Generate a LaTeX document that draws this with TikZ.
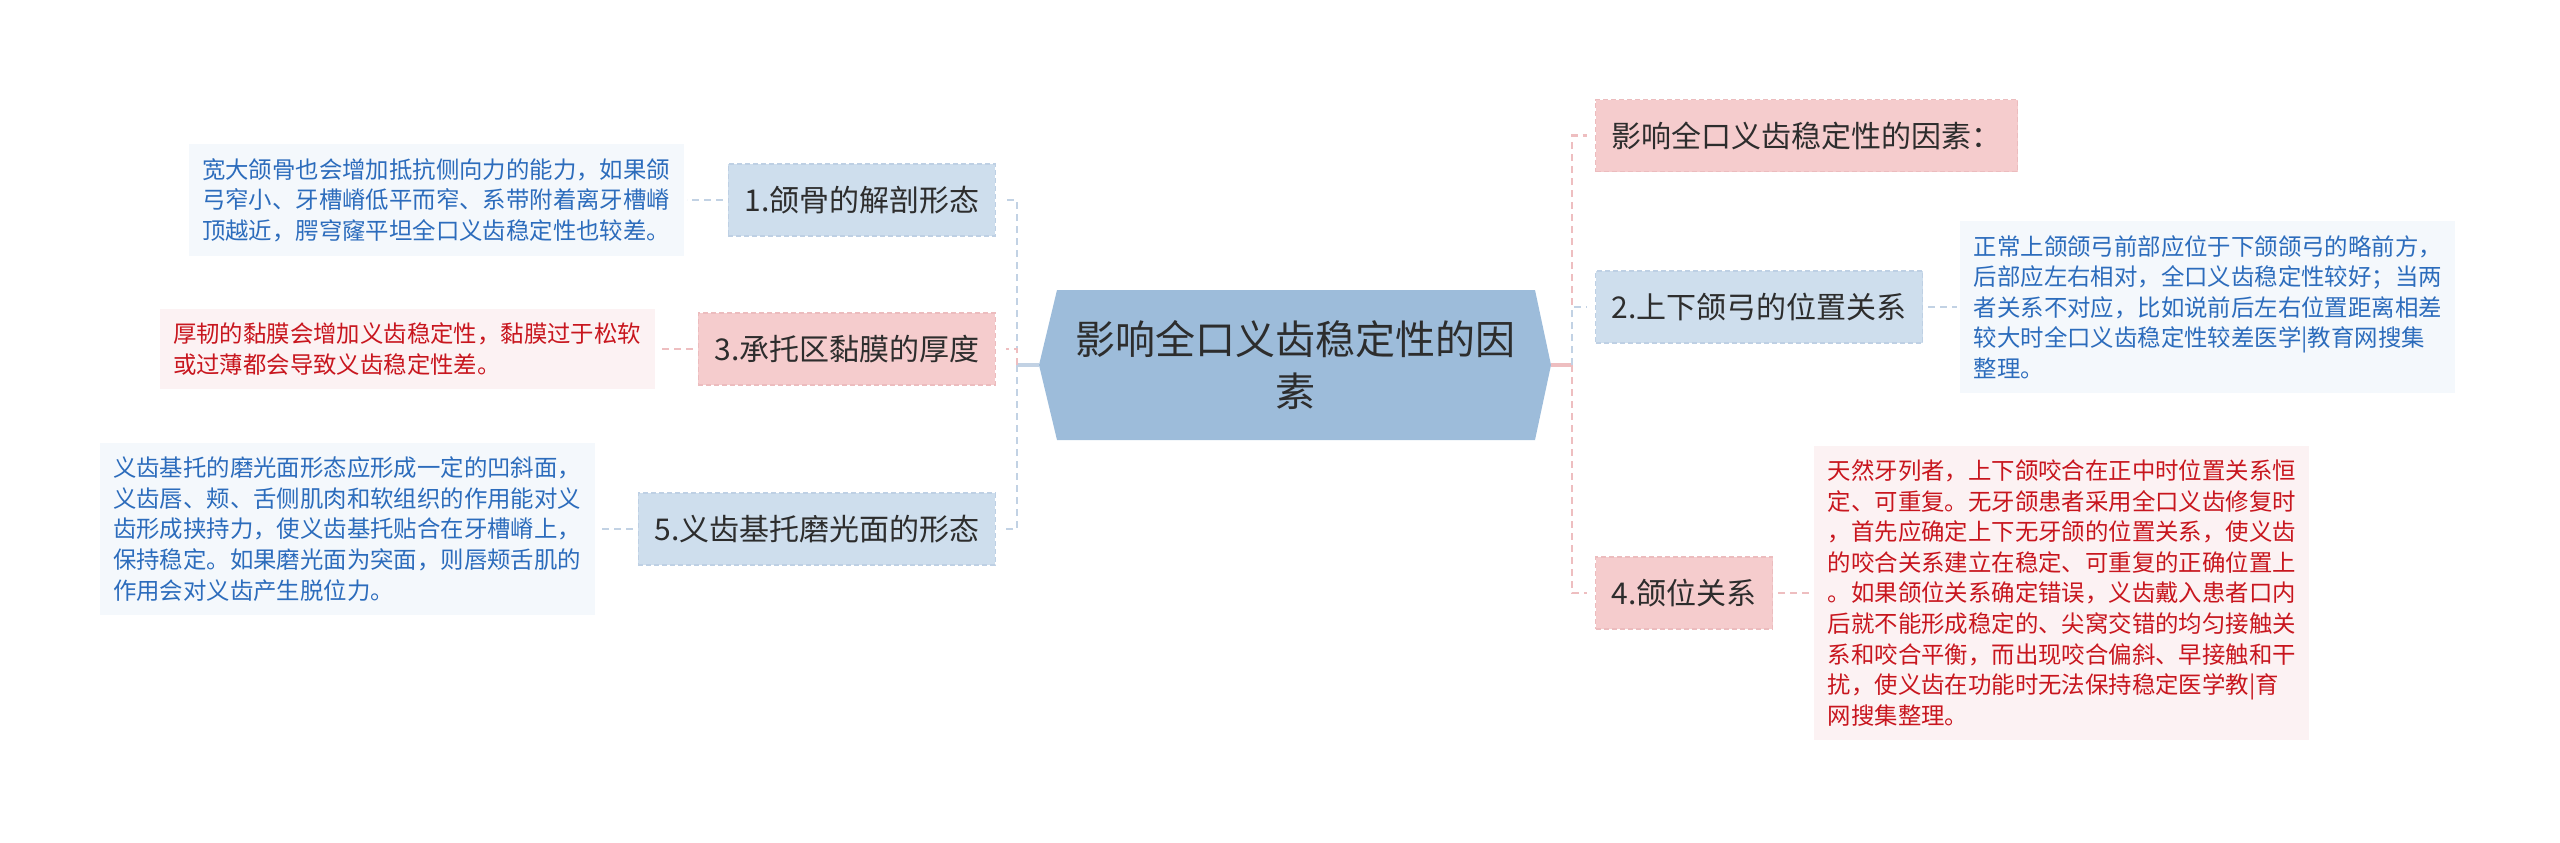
\documentclass[tikz,border=0pt]{standalone}
\usepackage{fontspec}
\setmainfont{Noto Sans CJK SC}
\usetikzlibrary{positioning}
\definecolor{rootblue}{RGB}{157,188,218}
\definecolor{titlegray}{RGB}{45,45,45}
\definecolor{topicblue}{RGB}{206,222,237}
\definecolor{topicblueline}{RGB}{190,208,228}
\definecolor{topicpink}{RGB}{245,204,205}
\definecolor{topicpinkline}{RGB}{236,188,190}
\definecolor{noteblue}{RGB}{244,248,252}
\definecolor{notebluetext}{RGB}{44,108,188}
\definecolor{notepink}{RGB}{252,242,243}
\definecolor{notepinktext}{RGB}{200,22,30}
\definecolor{lineblue}{RGB}{194,210,228}
\definecolor{linepink}{RGB}{238,190,192}

\begin{document}
\begin{tikzpicture}[x=1pt,y=-1pt,
            rootbox/.style={minimum width=512pt,minimum height=150pt,align=center,
              font=\fontsize{40}{52}\selectfont,text=titlegray,
              path picture={\fill[rootblue] (path picture bounding box.west)
                -- ([xshift=18pt]path picture bounding box.north west)
                -- ([xshift=-16pt]path picture bounding box.north east)
                -- (path picture bounding box.east)
                -- ([xshift=-16pt]path picture bounding box.south east)
                -- ([xshift=18pt]path picture bounding box.south west) -- cycle;}},
            topic/.style={minimum height=72pt,inner xsep=16pt,text=titlegray,
              font=\fontsize{30}{36}\selectfont,line width=1.2pt,dash pattern=on 5pt off 3pt},
            bluetopic/.style={topic,fill=topicblue,draw=topicblueline},
            pinktopic/.style={topic,fill=topicpink,draw=topicpinkline},
            note/.style={text width=468pt,inner xsep=13.5pt,inner ysep=14pt,align=left,
              font=\fontsize{23.4}{30.6}\selectfont},
            bluenote/.style={note,fill=noteblue,text=notebluetext},
            pinknote/.style={note,fill=notepink,text=notepinktext},
            blueline/.style={draw=lineblue,line width=2.6pt,dash pattern=on 7pt off 5pt},
            pinkline/.style={draw=linepink,line width=2.6pt,dash pattern=on 7pt off 5pt},
            stem/.style={line width=3.5pt,solid}]
            \useasboundingbox (0,0) rectangle (2560,843);

            \node[rootbox] (root) at (1295,365) {影响全口义齿稳定性的因\\素};
            \coordinate (ljunc) at (1017,365);
            \coordinate (rjunc) at (1572,365);

            % left branches
            \node[bluetopic,anchor=east] (jaw) at (996,200) {1.颌骨的解剖形态};
            \node[pinktopic,anchor=east] (mucosa) at (996,349) {3.承托区黏膜的厚度};
            \node[bluetopic,anchor=east] (polish) at (996,529) {5.义齿基托磨光面的形态};
            \node[bluenote,left=44pt of jaw] (jawnote) {宽大颌骨也会增加抵抗侧向力的能力，如果颌\\弓窄小、牙槽嵴低平而窄、系带附着离牙槽嵴\\顶越近，腭穹窿平坦全口义齿稳定性也较差。};
            \node[pinknote,left=43pt of mucosa] (mucosanote) {厚韧的黏膜会增加义齿稳定性，黏膜过于松软\\或过薄都会导致义齿稳定性差。};
            \node[bluenote,left=43pt of polish] (polishnote) {义齿基托的磨光面形态应形成一定的凹斜面，\\义齿唇、颊、舌侧肌肉和软组织的作用能对义\\齿形成挟持力，使义齿基托贴合在牙槽嵴上，\\保持稳定。如果磨光面为突面，则唇颊舌肌的\\作用会对义齿产生脱位力。};

            % right branches
            \node[pinktopic,anchor=west] (factors) at (1595,135.5) {影响全口义齿稳定性的因素：};
            \node[bluetopic,anchor=west] (arch) at (1595,307) {2.上下颌弓的位置关系};
            \node[pinktopic,anchor=west] (relation) at (1595,593) {4.颌位关系};
            \node[bluenote,right=37pt of arch] (archnote) {正常上颌颌弓前部应位于下颌颌弓的略前方，\\后部应左右相对，全口义齿稳定性较好；当两\\者关系不对应，比如说前后左右位置距离相差\\较大时全口义齿稳定性较差医学|教育网搜集\\整理。};
            \node[pinknote,right=41pt of relation] (relationnote) {天然牙列者，上下颌咬合在正中时位置关系恒\\定、可重复。无牙颌患者采用全口义齿修复时\\，首先应确定上下无牙颌的位置关系，使义齿\\的咬合关系建立在稳定、可重复的正确位置上\\。如果颌位关系确定错误，义齿戴入患者口内\\后就不能形成稳定的、尖窝交错的均匀接触关\\系和咬合平衡，而出现咬合偏斜、早接触和干\\扰，使义齿在功能时无法保持稳定医学教|育\\网搜集整理。};

            % connectors
            \draw[blueline,stem] (root.west) -- (ljunc);
            \draw[pinkline,stem] (root.east) -- (rjunc);
            \draw[blueline] (ljunc) |- ([xshift=10pt]jaw.east);
            \draw[pinkline] (ljunc) |- ([xshift=10pt]mucosa.east);
            \draw[blueline] (ljunc) |- ([xshift=10pt]polish.east);
            \draw[pinkline] (rjunc) |- ([xshift=-8pt]factors.west);
            \draw[blueline] (rjunc) |- ([xshift=-8pt]arch.west);
            \draw[pinkline] (rjunc) |- ([xshift=-8pt]relation.west);
            \draw[blueline,shorten <=5pt,shorten >=3pt] (jaw) -- (jawnote);
            \draw[pinkline,shorten <=5pt,shorten >=3pt] (mucosa) -- (mucosanote);
            \draw[blueline,shorten <=5pt,shorten >=3pt] (polish) -- (polishnote);
            \draw[blueline,shorten <=5pt,shorten >=3pt] (arch) -- (archnote);
            \draw[pinkline,shorten <=5pt,shorten >=3pt] (relation) -- (relationnote);
          \end{tikzpicture}
\end{document}
